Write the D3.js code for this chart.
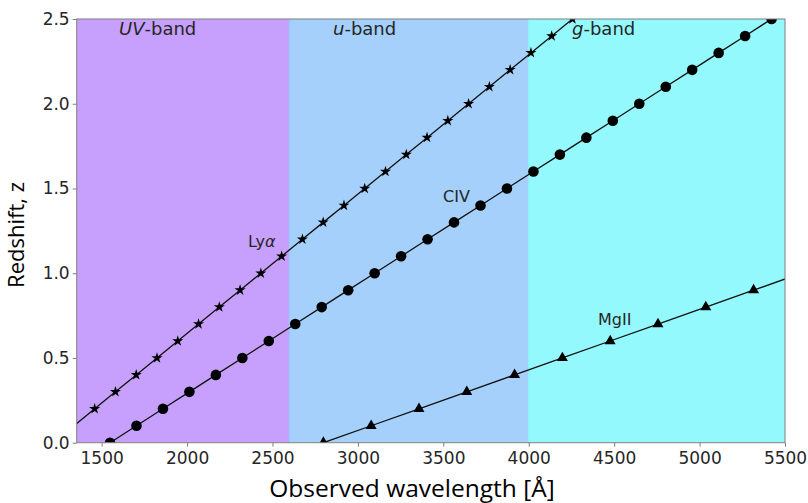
<!DOCTYPE html>
<html>
<head>
<meta charset="utf-8">
<script src="https://cdn.jsdelivr.net/npm/d3@7"></script>
<style>
  html, body { margin: 0; padding: 0; background: #fff; }
  svg { display: block; }
</style>
</head>
<body>
<svg id="chart" width="808" height="503"></svg>
<script>
// Observed wavelength (Å) of each emission line versus redshift z.
const lyaWave = [1337.6, 1459.2, 1580.8, 1702.4, 1824.0, 1945.6, 2067.2, 2188.8, 2310.4, 2432.0,
                 2553.6, 2675.2, 2796.8, 2918.4, 3040.0, 3161.6, 3283.2, 3404.8, 3526.4, 3648.0,
                 3769.6, 3891.2, 4012.8, 4134.4, 4256.0];
const lyaZ    = [0.1, 0.2, 0.3, 0.4, 0.5, 0.6, 0.7, 0.8, 0.9, 1.0,
                 1.1, 1.2, 1.3, 1.4, 1.5, 1.6, 1.7, 1.8, 1.9, 2.0,
                 2.1, 2.2, 2.3, 2.4, 2.5];

const civWave = [1549.0, 1703.9, 1858.8, 2013.7, 2168.6, 2323.5, 2478.4, 2633.3, 2788.2, 2943.1,
                 3098.0, 3252.9, 3407.8, 3562.7, 3717.6, 3872.5, 4027.4, 4182.3, 4337.2, 4492.1,
                 4647.0, 4801.9, 4956.8, 5111.7, 5266.6, 5421.5];
const civZ    = [0.0, 0.1, 0.2, 0.3, 0.4, 0.5, 0.6, 0.7, 0.8, 0.9,
                 1.0, 1.1, 1.2, 1.3, 1.4, 1.5, 1.6, 1.7, 1.8, 1.9,
                 2.0, 2.1, 2.2, 2.3, 2.4, 2.5];

const mgWave  = [2798.0, 3077.8, 3357.6, 3637.4, 3917.2, 4197.0, 4476.8, 4756.6, 5036.4, 5316.2, 5595.8];
const mgZ     = [0.0, 0.1, 0.2, 0.3, 0.4, 0.5, 0.6, 0.7, 0.8, 0.9, 1.0];

// Filter bands (wavelength ranges in Å)
const bandNames = ["UV", "u", "g"];
const bandStart = [1354, 2600, 4000];
const bandEnd   = [2600, 4000, 5500];

const xTicks = [1500, 2000, 2500, 3000, 3500, 4000, 4500, 5000, 5500];
const yTicks = [0.0, 0.5, 1.0, 1.5, 2.0, 2.5];

const series = [
  { name: "Lyα", wave: lyaWave, z: lyaZ, symbol: d3.symbolStar,     size: 38, markFrom: 1 },
  { name: "CIV", wave: civWave, z: civZ, symbol: d3.symbolCircle,   size: 88, markFrom: 0 },
  { name: "MgII", wave: mgWave, z: mgZ,  symbol: d3.symbolTriangle, size: 52, markFrom: 0 }
];

const svg = d3.select("#chart");
const padL = 76.7, padR = 785, padT = 19, padB = 442.7;

const x = d3.scaleLinear().domain([1354, 5500]).range([padL, padR]);
const y = d3.scaleLinear().domain([0, 2.5]).range([padB, padT]);

const bandFill = { UV: "#c6a0fc", u: "#a4d0fb", g: "#94f9fd" };
const bandEdge = { UV: "#b89cfb", u: "#9cc8fb", g: "#8ef0fc" };

svg.append("defs").append("clipPath").attr("id", "plotClip")
  .append("rect").attr("x", padL).attr("y", padT)
  .attr("width", padR - padL).attr("height", padB - padT);

const plot = svg.append("g").attr("clip-path", "url(#plotClip)");

// shaded bands
plot.selectAll("rect.band").data(bandNames).join("rect")
  .attr("class", "band")
  .attr("x", (d, i) => x(bandStart[i]))
  .attr("y", padT)
  .attr("width", (d, i) => x(bandEnd[i]) - x(bandStart[i]))
  .attr("height", padB - padT)
  .attr("fill", d => bandFill[d]);

// thin edges where bands meet
plot.selectAll("line.edge").data(bandNames.slice(1)).join("line")
  .attr("class", "edge")
  .attr("x1", (d, i) => x(bandStart[i + 1])).attr("x2", (d, i) => x(bandStart[i + 1]))
  .attr("y1", padT).attr("y2", padB)
  .attr("stroke", d => bandEdge[d]).attr("stroke-width", 1.5);

// lines and markers
const line = d3.line().x(d => x(d[0])).y(d => y(d[1]));
series.forEach(s => {
  const pts = s.wave.map((w, i) => [w, s.z[i]]);
  plot.append("path").datum(pts)
    .attr("d", line)
    .attr("fill", "none")
    .attr("stroke", "#111")
    .attr("stroke-width", 1.3);
  plot.selectAll(null).data(pts.slice(s.markFrom)).join("path")
    .attr("transform", d => `translate(${x(d[0])},${y(d[1])})`)
    .attr("d", d3.symbol().type(s.symbol).size(s.size))
    .attr("fill", "#000");
});

// axes frame
svg.append("rect")
  .attr("x", padL).attr("y", padT)
  .attr("width", padR - padL).attr("height", padB - padT)
  .attr("fill", "none").attr("stroke", "#7f7f7f").attr("stroke-width", 1);

const tickFont = "DejaVu Sans, sans-serif";
const xAxis = svg.append("g").attr("transform", `translate(0,${padB})`)
  .call(d3.axisBottom(x).tickValues(xTicks).tickFormat(d3.format("d")).tickSize(4).tickPadding(5));
const yAxis = svg.append("g").attr("transform", `translate(${padL},0)`)
  .call(d3.axisLeft(y).tickValues(yTicks).tickFormat(d3.format(".1f")).tickSize(4).tickPadding(3));
[xAxis, yAxis].forEach(a => {
  a.select(".domain").remove();
  a.selectAll(".tick line").attr("stroke", "#7f7f7f");
  a.selectAll(".tick text").attr("fill", "#262626")
    .style("font-family", tickFont).style("font-size", "17px");
});

// band names
const bandLabel = [
  { x: 119, it: "UV", rest: "-band" },
  { x: 333, it: "u",  rest: "-band" },
  { x: 572, it: "g",  rest: "-band" }
];
bandLabel.forEach(b => {
  const t = svg.append("text").attr("x", b.x).attr("y", 35)
    .style("font-family", tickFont).style("font-size", "18px").attr("fill", "#262626");
  t.append("tspan").style("font-style", "italic").text(b.it);
  t.append("tspan").text(b.rest);
});

// emission line names (Greek alpha set in italic)
const lineLabel = [
  { text: "Ly", it: "α", x: 248, y: 247 },
  { text: "CIV", it: "", x: 443, y: 202 },
  { text: "MgII", it: "", x: 598, y: 325 }
];
lineLabel.forEach(l => {
  const t = svg.append("text").attr("x", l.x).attr("y", l.y)
    .style("font-family", tickFont).style("font-size", "16px").attr("fill", "#262626");
  t.append("tspan").text(l.text);
  if (l.it) t.append("tspan").style("font-style", "italic").text(l.it);
});

// axis titles
svg.append("text")
  .attr("x", 412).attr("y", 497)
  .attr("text-anchor", "middle")
  .style("font-family", "Open Sans, sans-serif").style("font-size", "24.5px")
  .attr("fill", "#000")
  .text("Observed wavelength [Å]");

svg.append("text")
  .attr("transform", "translate(23.5,235) rotate(-90)")
  .attr("text-anchor", "middle")
  .style("font-family", "Open Sans, sans-serif").style("font-size", "22px")
  .attr("fill", "#000")
  .text("Redshift, z");
</script>
</body>
</html>
